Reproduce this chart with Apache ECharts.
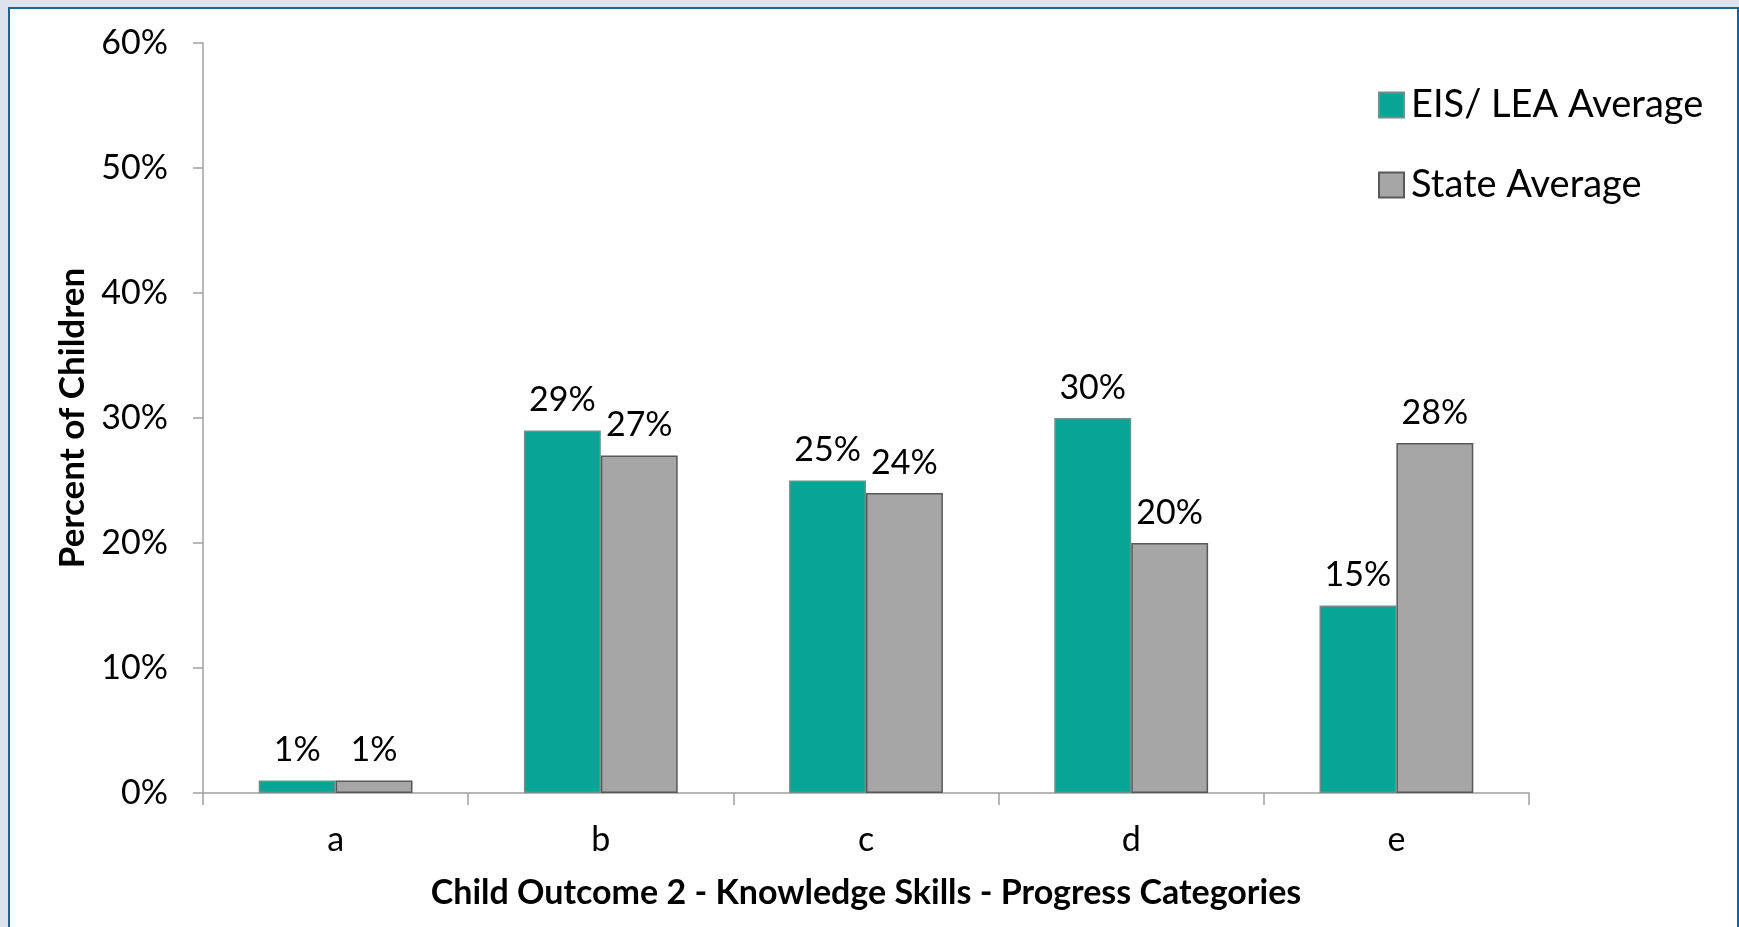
<!DOCTYPE html>
<html>
<head>
<meta charset="utf-8">
<script src="https://cdn.jsdelivr.net/npm/echarts@6/dist/echarts.min.js"></script>
<style>
html,body{margin:0;padding:0;background:#dce3ec;}
#frame{position:absolute;left:8px;top:7px;width:1727px;height:930px;background:#fff;border-left:2px solid #1f6394;border-top:2px solid #1f6394;border-right:2px solid #1f6394;}
#chart{position:absolute;left:0;top:0;width:1739px;height:927px;}
</style>
</head>
<body>
<div id="frame"></div>
<div id="chart"></div>
<script>
const categories = ['a', 'b', 'c', 'd', 'e'];
const eisValues = [1, 29, 25, 30, 15];
const stateValues = [1, 27, 24, 20, 28];
const seriesNames = ['EIS/ LEA Average', 'State Average'];
const yTicks = [0, 10, 20, 30, 40, 50, 60];

const font = 'Lato, "Noto Sans", sans-serif';
const chart = echarts.init(document.getElementById('chart'), null, {renderer: 'canvas'});
const labelOpt = {
  show: true, position: 'top', distance: 13,
  formatter: p => p.value + '%',
  fontFamily: font, fontSize: 34, color: '#000'
};
chart.setOption({
  backgroundColor: 'transparent',
  animation: false,
  grid: {left: 203, right: 210, top: 43, bottom: 134},
  legend: {
    orient: 'vertical', left: 1373, top: 81, itemWidth: 25, itemHeight: 25, itemGap: 42,
    icon: 'rect',
    textStyle: {fontFamily: font, fontSize: 38, color: '#000', padding: [0, 0, 0, 2]},
    data: seriesNames
  },
  xAxis: {
    type: 'category', data: categories,
    axisLine: {lineStyle: {color: '#a0a0a0', width: 1.5}},
    axisTick: {show: true, length: 12, lineStyle: {color: '#a0a0a0', width: 1.5}},
    axisLabel: {fontFamily: font, fontSize: 34, color: '#000', margin: 30},
    name: 'Child Outcome 2 - Knowledge Skills - Progress Categories',
    nameLocation: 'middle', nameGap: 83,
    nameTextStyle: {fontFamily: font, fontSize: 34, fontWeight: 'bold', color: '#000'}
  },
  yAxis: {
    type: 'value', min: 0, max: 60, interval: 10,
    axisLine: {show: true, lineStyle: {color: '#a0a0a0', width: 1.5}},
    axisTick: {show: true, length: 10, lineStyle: {color: '#a0a0a0', width: 1.5}},
    splitLine: {show: false},
    axisLabel: {fontFamily: font, fontSize: 34, color: '#000', margin: 35,
      formatter: v => yTicks.includes(v) ? v + '%' : ''},
    name: 'Percent of Children', nameLocation: 'middle', nameGap: 109,
    nameTextStyle: {fontFamily: font, fontSize: 35, fontWeight: 'bold', color: '#000'}
  },
  series: [
    {
      name: seriesNames[0], type: 'bar', data: eisValues,
      barGap: '0%', barCategoryGap: '42%',
      itemStyle: {color: '#08a596', borderColor: '#6f8f8a', borderWidth: 1.5},
      label: labelOpt
    },
    {
      name: seriesNames[1], type: 'bar', data: stateValues,
      barGap: '0%', barCategoryGap: '42%',
      itemStyle: {color: '#a6a6a6', borderColor: '#595959', borderWidth: 1.5},
      label: labelOpt
    }
  ]
});
</script>
</body>
</html>
